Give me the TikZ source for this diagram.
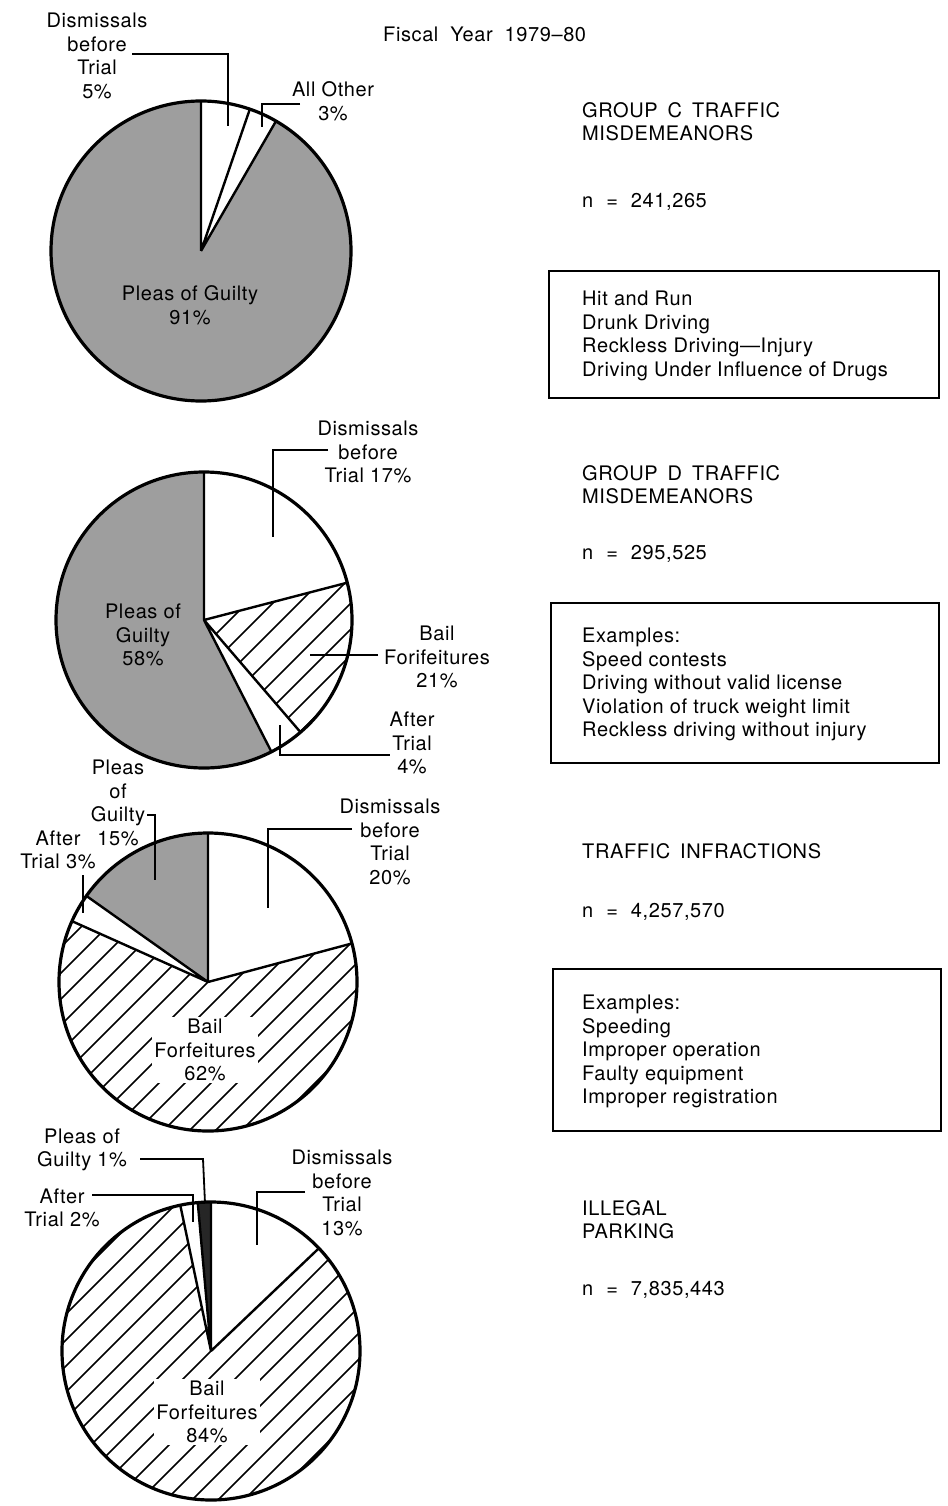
\documentclass[tikz,border=0pt]{standalone}
\usepackage{fontspec}
\setmainfont{TeX Gyre Heros}[LetterSpace=3]
\usetikzlibrary{calc}
\newcommand\fs{\fontsize{20}{23.5}\selectfont}
\newcommand\hatchslice[4]{%
  \begin{scope}
    \clip (#1) -- +(#3:#2) arc[start angle=#3, end angle=#4, radius=#2] -- cycle;
    \foreach \k in {-16,...,16} \draw[hatchl] ($(#1)+(\k*26-220,-220)$) -- ++(440,440);
  \end{scope}}
\tikzset{
  rim/.style={line width=3.2pt},
  edge/.style={line width=2.4pt},
  lead/.style={line width=1.8pt},
  hatchl/.style={line width=1.6pt},
  stip/.style={fill=black!38},
  dark/.style={fill=black!85},
  lbl/.style={font=\fs, align=center, inner sep=1pt},
  wlbl/.style={lbl, fill=white, inner sep=2pt},
  rtxt/.style={font=\fs, align=left, inner sep=0pt, anchor=north west},
  boxr/.style={draw, line width=1.8pt, inner sep=0pt, anchor=north west}
}
\newcommand\eqsp{\hspace{0.65em}=\hspace{0.65em}}
\begin{document}
\begin{tikzpicture}[x=1pt,y=1pt]
\useasboundingbox (0,0) rectangle (947,-1506);

% title
\node[rtxt] (title) at (383,-27) {Fiscal\hspace{0.6em}Year\hspace{0.6em}1979–80};

% ---------------- Pie 1 ----------------
\coordinate (c1) at (201,-251);
\fill[stip] (c1) -- +(60:150) arc[start angle=60, end angle=-270, radius=150] -- cycle;
\draw[edge] (c1) -- +(90:150) (c1) -- +(71:150) (c1) -- +(60:150);
\draw[rim] (c1) circle[radius=150];
\node[lbl] (p1dis) at (97,-56) {Dismissals\\before\\Trial\\5\%};
\node[lbl] (p1oth) at (333,-101) {All Other\\3\%};
\node[lbl] (p1ple) at (190,-305) {Pleas of Guilty\\91\%};
\coordinate (l1a) at (132,-54); \coordinate (l1b) at (228,-54); \coordinate (l1c) at (228,-126);
\draw[lead] (l1a) -- (l1b) -- (l1c);
\coordinate (l2a) at (300,-104); \coordinate (l2b) at (262,-104); \coordinate (l2c) at (262,-127);
\draw[lead] (l2a) -- (l2b) -- (l2c);

% ---------------- Pie 2 ----------------
\coordinate (c2) at (204,-620);
\fill[stip] (c2) -- +(-62.9:148) arc[start angle=-62.9, end angle=-270, radius=148] -- cycle;
\hatchslice{c2}{148}{14.6}{-49.3}
\draw[edge] (c2) -- +(90:148) (c2) -- +(14.6:148) (c2) -- +(-49.3:148) (c2) -- +(-62.9:148);
\draw[rim] (c2) circle[radius=148];
\node[lbl] (p2dis) at (368,-452) {Dismissals\\before\\Trial\hspace{0.3em}17\%};
\node[lbl] (p2bai) at (437,-657) {Bail\\Forifeitures\\21\%};
\node[lbl] (p2aft) at (412,-743) {After\\Trial\\4\%};
\node[lbl] (p2ple) at (143,-635) {Pleas of\\Guilty\\58\%};
\coordinate (l3a) at (328,-450); \coordinate (l3b) at (273,-450); \coordinate (l3c) at (273,-537);
\draw[lead] (l3a) -- (l3b) -- (l3c);
\coordinate (l4a) at (378,-655); \coordinate (l4b) at (310,-655);
\draw[lead] (l4a) -- (l4b);
\coordinate (l5a) at (280,-725); \coordinate (l5b) at (280,-755); \coordinate (l5c) at (390,-755);
\draw[lead] (l5a) -- (l5b) -- (l5c);

% ---------------- Pie 3 ----------------
\coordinate (c3) at (208,-982);
\fill[stip] (c3) -- +(144.7:149) arc[start angle=144.7, end angle=90, radius=149] -- cycle;
\hatchslice{c3}{149}{15}{-204.1}
\draw[edge] (c3) -- +(90:149) (c3) -- +(15:149) (c3) -- +(155.9:149) (c3) -- +(144.7:149);
\draw[rim] (c3) circle[radius=149];
\node[lbl] (p3dis) at (390,-842) {Dismissals\\before\\Trial\\20\%};
\node[lbl] (p3ple) at (118,-803) {Pleas\\of\\Guilty\\15\%};
\node[lbl] (p3aft) at (58,-850) {After\\Trial 3\%};
\node[wlbl] (p3bai) at (205,-1050) {Bail\\Forfeitures\\62\%};
\coordinate (l6a) at (352,-829); \coordinate (l6b) at (268,-829); \coordinate (l6c) at (268,-908);
\draw[lead] (l6a) -- (l6b) -- (l6c);
\coordinate (l7a) at (147,-815); \coordinate (l7b) at (155,-815); \coordinate (l7c) at (155,-880);
\draw[lead] (l7a) -- (l7b) -- (l7c);
\coordinate (l8a) at (83,-875); \coordinate (l8b) at (83,-913);
\draw[lead] (l8a) -- (l8b);

% ---------------- Pie 4 ----------------
\coordinate (c4) at (211,-1351);
\fill[dark] (c4) -- +(95.1:149) arc[start angle=95.1, end angle=90, radius=149] -- cycle;
\hatchslice{c4}{149}{43.6}{-258.1}
\draw[edge] (c4) -- +(90:149) (c4) -- +(43.6:149) (c4) -- +(101.9:149) (c4) -- +(95.1:149);
\draw[rim] (c4) circle[radius=149];
\node[lbl] (p4ple) at (82,-1150) {Pleas of\\Guilty\hspace{0.3em}1\%};
\node[lbl] (p4aft) at (62,-1208) {After\\Trial 2\%};
\node[lbl] (p4dis) at (342,-1193) {Dismissals\\before\\Trial\\13\%};
\node[wlbl] (p4bai) at (207,-1412) {Bail\\Forfeitures\\84\%};
\coordinate (l9a) at (140,-1159); \coordinate (l9b) at (203,-1159); \coordinate (l9c) at (205,-1203);
\draw[lead] (l9a) -- (l9b) -- (l9c);
\coordinate (l10a) at (92,-1195); \coordinate (l10b) at (193,-1195); \coordinate (l10c) at (193,-1222);
\draw[lead] (l10a) -- (l10b) -- (l10c);
\coordinate (l11a) at (305,-1192); \coordinate (l11b) at (257,-1192); \coordinate (l11c) at (257,-1245);
\draw[lead] (l11a) -- (l11b) -- (l11c);

% ---------------- Right column ----------------
\node[rtxt] (h1) at (582,-102) {GROUP\hspace{0.5em}C\hspace{0.5em}TRAFFIC\\MISDEMEANORS};
\node[rtxt] (n1) at (582,-193) {n\eqsp241,265};
\node[boxr, minimum width=390pt, minimum height=127pt] (b1) at (548,-270) {};
\node[rtxt] (e1) at (582,-291) {Hit and Run\\Drunk Driving\\Reckless Driving—Injury\\Driving Under Influence of Drugs};

\node[rtxt] (h2) at (582,-465) {GROUP\hspace{0.5em}D\hspace{0.5em}TRAFFIC\\MISDEMEANORS};
\node[rtxt] (n2) at (582,-545) {n\eqsp295,525};
\node[boxr, minimum width=388pt, minimum height=160pt] (b2) at (550,-602) {};
\node[rtxt] (e2) at (582,-628) {Examples:\\Speed contests\\Driving without valid license\\Violation of truck weight limit\\Reckless driving without injury};

\node[rtxt] (h3) at (582,-843) {TRAFFIC\hspace{0.5em}INFRACTIONS};
\node[rtxt] (n3) at (582,-903) {n\eqsp4,257,570};
\node[boxr, minimum width=388pt, minimum height=162pt] (b3) at (552,-968) {};
\node[rtxt] (e3) at (582,-995) {Examples:\\Speeding\\Improper operation\\Faulty equipment\\Improper registration};

\node[rtxt] (h4) at (582,-1200) {ILLEGAL\\PARKING};
\node[rtxt] (n4) at (582,-1281) {n\eqsp7,835,443};
\end{tikzpicture}
\end{document}
